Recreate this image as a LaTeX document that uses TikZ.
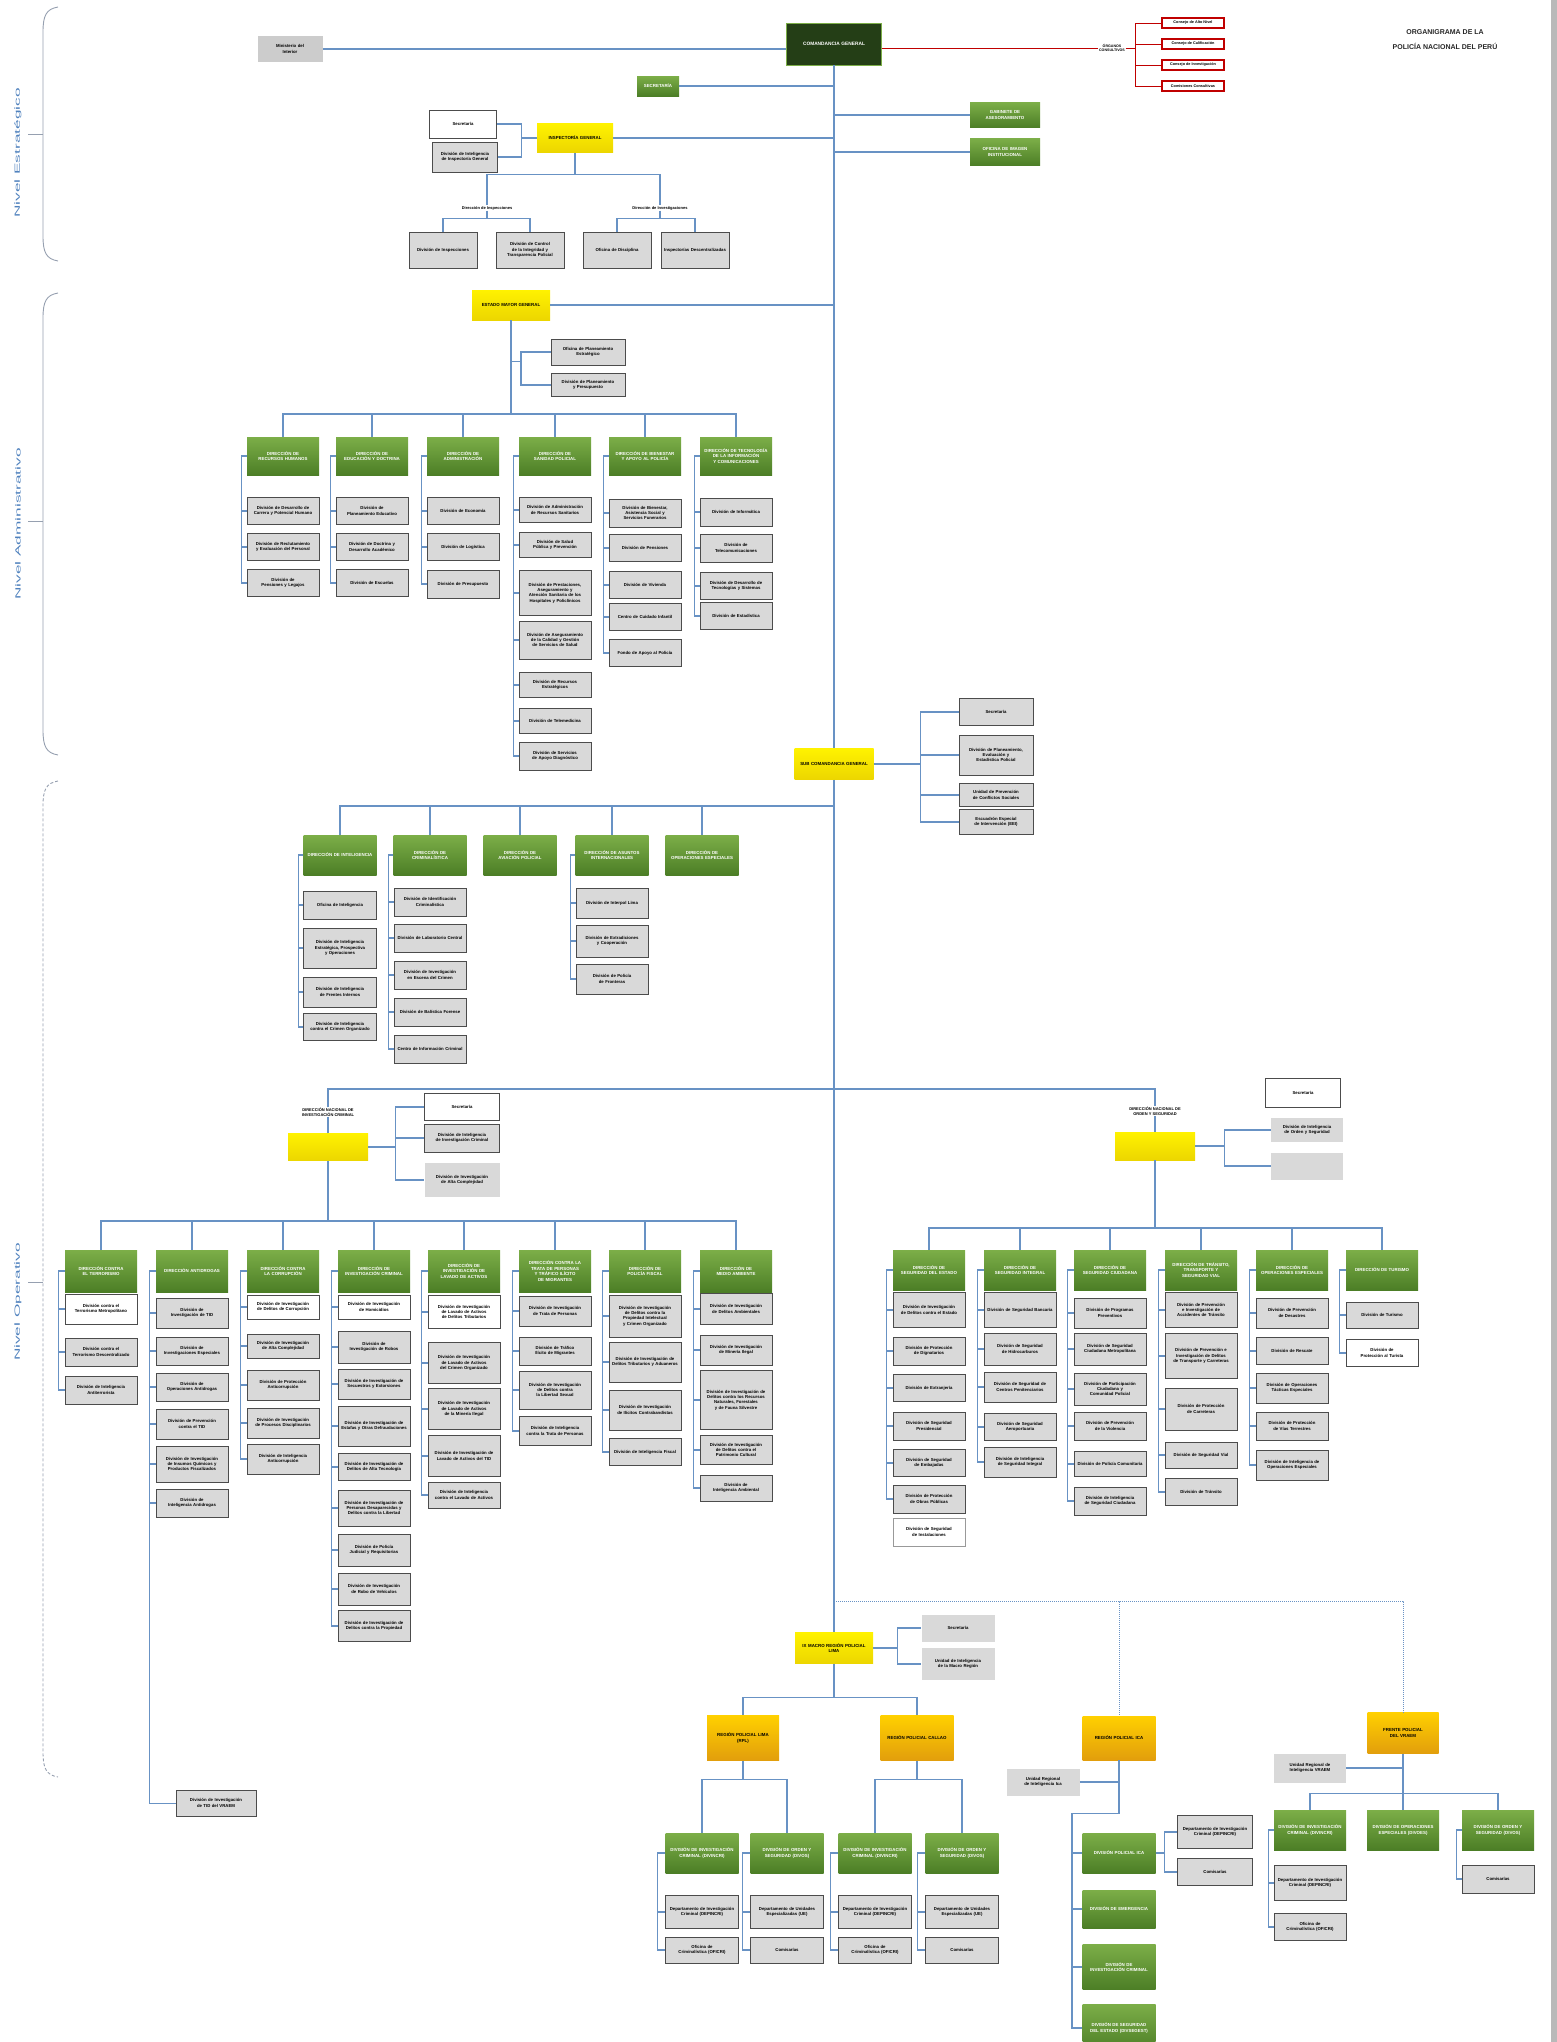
\documentclass[tikz,border=0pt]{standalone}
\usepackage{fontspec}
\setmainfont{Liberation Sans}
\usetikzlibrary{positioning}
\hyphenpenalty=10000
\exhyphenpenalty=10000

\definecolor{linec}{RGB}{104,146,196}
\definecolor{boxgray}{RGB}{217,217,217}
\definecolor{gtop}{RGB}{124,174,72}
\definecolor{gbot}{RGB}{76,126,38}
\definecolor{dkgreen}{RGB}{36,62,22}
\definecolor{ylw}{RGB}{255,242,0}
\definecolor{ylwb}{RGB}{236,214,0}
\definecolor{gold}{RGB}{255,208,0}
\definecolor{goldb}{RGB}{226,158,12}
\definecolor{redb}{RGB}{192,0,0}
\definecolor{lvl}{RGB}{79,129,189}
\definecolor{bracec}{RGB}{150,160,176}

\tikzset{
  conn/.style={draw=linec, line width=1.1pt},
  dotconn/.style={draw=linec, line width=1pt, densely dotted},
  redconn/.style={draw=redb, line width=0.7pt},
  brace/.style={draw=bracec, line width=0.9pt},
  gbox/.style={rectangle, draw=black!70, line width=0.9pt, fill=boxgray,
    minimum width=72pt, minimum height=27pt, text width=66pt, align=center,
    inner sep=1pt, font=\fontsize{4.3}{5.4}\bfseries},
  wbox/.style={gbox, fill=white},
  lbox/.style={gbox, draw=none, fill=gray!40},
  dirbox/.style={rectangle, top color=gtop, bottom color=gbot, minimum width=72pt,
    minimum height=40pt, text width=68pt, align=center, inner sep=1pt,
    text=white, font=\fontsize{4.4}{5.6}\bfseries},
  cgbox/.style={rectangle, fill=dkgreen, draw=gtop, line width=0.6pt,
    minimum width=94pt, minimum height=42pt, text width=88pt, align=center,
    text=white, font=\fontsize{4.8}{6}\bfseries},
  ybox/.style={rectangle, top color=ylw, bottom color=ylwb, minimum width=78pt,
    minimum height=30pt, text width=72pt, align=center, inner sep=1pt,
    font=\fontsize{4.4}{5.6}\bfseries},
  gldbox/.style={ybox, top color=gold, bottom color=goldb, minimum width=72pt,
    minimum height=44pt, text width=66pt},
  redbox/.style={rectangle, draw=redb, line width=1.8pt, fill=white,
    minimum width=62pt, minimum height=10pt, inner sep=0.5pt,
    font=\fontsize{3.8}{4.4}\bfseries},
  lbl/.style={align=center, inner sep=0.5pt, font=\fontsize{4}{5}\bfseries},
  nivel/.style={rotate=90, text=lvl, inner sep=0pt, font=\fontsize{7.5}{9}\selectfont},
}

\begin{document}
\begin{tikzpicture}[x=1pt,y=-1pt]
  \useasboundingbox (0,0) rectangle (1557,2042);
  \fill[gray!55] (1551,0) rectangle (1557,2042);

  % niveles
  \node[nivel] (nv1) at (18,153) {\scalebox{2.3}[1]{Nivel Estratégico}};
  \node[nivel] (nv2) at (18,524) {\scalebox{2.3}[1]{Nivel Administrativo}};
  \node[nivel] (nv3) at (18,1302) {\scalebox{2.3}[1]{Nivel Operativo}};
  \draw[brace] (58,7) .. controls (46,9) and (43,16) .. (43,32) -- (43,236)
    .. controls (43,252) and (46,259) .. (58,261);
  \draw[brace] (43,134) -- (28,134);
  \draw[brace] (58,293) .. controls (46,295) and (43,302) .. (43,318) -- (43,730)
    .. controls (43,746) and (46,753) .. (58,755);
  \draw[brace] (43,521) -- (28,521);
  \draw[brace, densely dashed] (58,781) .. controls (46,783) and (43,790) .. (43,806) -- (43,1752)
    .. controls (43,1768) and (46,1775) .. (58,1777);
  \draw[brace] (43,1282) -- (28,1282);

  % alta direccion
  \node[font=\fontsize{7}{15}\bfseries, align=center, text=black!85] (title) at (1445,40)
    {ORGANIGRAMA DE LA\\POLICÍA NACIONAL DEL PERÚ};
  \node[lbox, minimum width=65pt, text width=60pt, minimum height=26pt] (mi) at (290,49)
    {Ministerio del\\Interior};
  \node[cgbox] (cg) at (834,44) {COMANDANCIA GENERAL};
  \node[lbl, font=\fontsize{3.6}{4.4}\bfseries] (oc) at (1112,48) {ÓRGANOS\\CONSULTIVOS};
  \foreach \y/\t [count=\i] in {23/{Consejo de Alto Nivel}, 44/{Consejo de Calificación},
      65/{Consejo de Investigación}, 86/{Comisiones Consultivas}}
    \node[redbox] (r\i) at (1193,\y) {\t};
  \draw[conn] (mi.east) -- (mi.east -| cg.west);
  \draw[redconn] (oc.west -| cg.east) -- (oc.west);
  \draw[redconn] (oc.east) -- ++(10,0) coordinate (rk);
  \foreach \i in {1,...,4}
    \draw[redconn] (rk) |- (r\i.west);

  \node[dirbox, minimum width=42pt, text width=40pt, minimum height=20pt] (sec) at (658,86) {SECRETARÍA};
  \node[dirbox, minimum width=70pt, text width=66pt, minimum height=25pt] (gab) at (1005,115)
    {GABINETE DE ASESORAMIENTO};
  \node[dirbox, minimum width=70pt, text width=66pt, minimum height=27pt] (oci) at (1005,152)
    {OFICINA DE IMAGEN INSTITUCIONAL};
  \draw[conn] (sec.east) -- (sec.east -| cg.south);
  \draw[conn] (gab.west) -- (gab.west -| cg.south);
  \draw[conn] (oci.west) -- (oci.west -| cg.south);

  % inspectoria general
  \node[ybox, minimum width=76pt, minimum height=29pt] (ig) at (575,138) {INSPECTORÍA GENERAL};
  \node[wbox, minimum width=67pt, text width=60pt, minimum height=28pt] (igs) at (463,124) {Secretaría};
  \node[gbox, minimum width=65pt, text width=60pt, minimum height=30pt] (igi) at (465,157)
    {División de Inteligencia de Inspectoría General};
  \node[lbl] (dinsp) at (487,208) {Dirección de Inspecciones};
  \node[lbl] (dinv) at (660,208) {Dirección de Investigaciones};
  \node[gbox, minimum width=68pt, text width=62pt, minimum height=36pt] (b1) at (443,250)
    {División de Inspecciones};
  \node[gbox, minimum width=68pt, text width=62pt, minimum height=36pt] (b2) at (530,250)
    {División de Control de la Integridad y Transparencia Policial};
  \node[gbox, minimum width=68pt, text width=62pt, minimum height=36pt] (b3) at (617,250)
    {Oficina de Disciplina};
  \node[gbox, minimum width=68pt, text width=62pt, minimum height=36pt] (b4) at (695,250)
    {Inspectorías Descentralizadas};
  \draw[conn] (ig.east) -- (ig.east -| cg.south);
  \draw[conn] (ig.west) -- ++(-15,0) coordinate (ik);
  \draw[conn] (ik) |- (igs.east);
  \draw[conn] (ik) |- (igi.east);
  \draw[conn] (ig.south) -- ++(0,22) coordinate (id);
  \draw[conn] (id) -| (dinsp.north);
  \draw[conn] (id) -| (dinv.north);
  \draw[conn] (dinsp.south) -- ++(0,8) coordinate (ia);
  \draw[conn] (ia) -| (b1.north);
  \draw[conn] (ia) -| (b2.north);
  \draw[conn] (dinv.south) -- ++(0,8) coordinate (ib);
  \draw[conn] (ib) -| (b3.north);
  \draw[conn] (ib) -| (b4.north);

  % estado mayor general
  \node[ybox] (emg) at (511,305) {ESTADO MAYOR GENERAL};
  \node[gbox, minimum width=74pt, minimum height=26pt] (em1) at (588,352)
    {Oficina de Planeamiento Estratégico};
  \node[gbox, minimum width=74pt, minimum height=23pt] (em2) at (588,385)
    {División de Planeamiento y Presupuesto};
  \draw[conn] (emg.east) -- (emg.east -| cg.south);
  \draw[conn] (emg.south) ++(0,41) -- ++(10,0) coordinate (ek);
  \draw[conn] (ek) |- (em1.west);
  \draw[conn] (ek) |- (em2.west);
  \coordinate (eb) at (511,414);
  \draw[conn] (emg.south) -- (eb);
  \foreach \x/\t [count=\i] in {283/{DIRECCIÓN DE RECURSOS HUMANOS},
      372/{DIRECCIÓN DE EDUCACIÓN Y DOCTRINA}, 463/{DIRECCIÓN DE ADMINISTRACIÓN},
      555/{DIRECCIÓN DE SANIDAD POLICIAL}, 645/{DIRECCIÓN DE BIENESTAR Y APOYO AL POLICÍA},
      736/{DIRECCIÓN DE TECNOLOGÍA DE LA INFORMACIÓN Y COMUNICACIONES}} {
    \node[dirbox, minimum height=38pt] (e\i) at (\x,456) {\t};
    \draw[conn] (e\i.north) |- (eb);
  }
  \foreach \y/\h/\t [count=\i] in {511/27/{División de Desarrollo de Carrera y Potencial Humano},
      547/27/{División de Reclutamiento y Evaluación del Personal}, 583/27/{División de Pensiones y Legajos}} {
    \node[gbox, minimum height=\h pt] (e1c\i) at (283,\y) {\t};
    \draw[conn] (e1.west) -- ++(-5,0) |- (e1c\i.west);
  }
  \foreach \y/\h/\t [count=\i] in {511/27/{División de Planeamiento Educativo},
      547/27/{División de Doctrina y Desarrollo Académico}, 583/27/{División de Escuelas}} {
    \node[gbox, minimum height=\h pt] (e2c\i) at (372,\y) {\t};
    \draw[conn] (e2.west) -- ++(-5,0) |- (e2c\i.west);
  }
  \foreach \y/\h/\t [count=\i] in {511/27/{División de Economía}, 547/27/{División de Logística},
      584/28/{División de Presupuesto}} {
    \node[gbox, minimum height=\h pt] (e3c\i) at (463,\y) {\t};
    \draw[conn] (e3.west) -- ++(-5,0) |- (e3c\i.west);
  }
  \foreach \y/\h/\t [count=\i] in {510/25/{División de Administración de Recursos Sanitarios},
      545/25/{División de Salud Pública y Prevención},
      593/45/{División de Prestaciones, Aseguramiento y Atención Sanitaria de los Hospitales y Policlínicos},
      640/38/{División de Aseguramiento de la Calidad y Gestión de Servicios de Salud},
      685/25/{División de Recursos Estratégicos}, 721/25/{División de Telemedicina},
      756/28/{División de Servicios de Apoyo Diagnóstico}} {
    \node[gbox, minimum height=\h pt] (e4c\i) at (555,\y) {\t};
    \draw[conn] (e4.west) -- ++(-5,0) |- (e4c\i.west);
  }
  \foreach \y/\h/\t [count=\i] in {513/28/{División de Bienestar, Asistencia Social y Servicios Funerarios},
      548/27/{División de Pensiones}, 585/27/{División de Vivienda}, 617/27/{Centro de Cuidado Infantil},
      653/27/{Fondo de Apoyo al Policía}} {
    \node[gbox, minimum height=\h pt] (e5c\i) at (645,\y) {\t};
    \draw[conn] (e5.west) -- ++(-5,0) |- (e5c\i.west);
  }
  \foreach \y/\h/\t [count=\i] in {512/28/{División de Informática}, 548/28/{División de Telecomunicaciones},
      586/27/{División de Desarrollo de Tecnologías y Sistemas}, 616/27/{División de Estadística}} {
    \node[gbox, minimum height=\h pt] (e6c\i) at (736,\y) {\t};
    \draw[conn] (e6.west) -- ++(-5,0) |- (e6c\i.west);
  }

  % sub comandancia general
  \node[ybox, minimum width=79pt, minimum height=31pt] (scg) at (834,764) {SUB COMANDANCIA GENERAL};
  \foreach \y/\h/\t [count=\i] in {712/27/{Secretaría},
      755/40/{División de Planeamiento, Evaluación y Estadística Policial},
      795/23/{Unidad de Prevención de Conflictos Sociales},
      822/25/{Escuadrón Especial de Intervención (EEI)}} {
    \node[gbox, minimum width=74pt, minimum height=\h pt] (s\i) at (996,\y) {\t};
  }
  \draw[conn] (cg.south) -- (scg.north);
  \draw[conn] (scg.east) -- ++(47,0) coordinate (sk);
  \foreach \i in {1,...,4}
    \draw[conn] (sk) |- (s\i.west);
  \coordinate (sb) at (834,806);
  \foreach \x/\t [count=\i] in {340/{DIRECCIÓN DE INTELIGENCIA}, 430/{DIRECCIÓN DE CRIMINALÍSTICA},
      520/{DIRECCIÓN DE AVIACIÓN POLICIAL}, 612/{DIRECCIÓN DE ASUNTOS INTERNACIONALES},
      702/{DIRECCIÓN DE OPERACIONES ESPECIALES}} {
    \node[dirbox, minimum width=73pt] (f\i) at (\x,855) {\t};
    \draw[conn] (f\i.north) |- (sb);
  }
  \foreach \y/\h/\t [count=\i] in {905/28/{Oficina de Inteligencia},
      948/40/{División de Inteligencia Estratégica, Prospectiva y Operaciones},
      992/30/{División de Inteligencia de Frentes Internos},
      1027/27/{División de Inteligencia contra el Crimen Organizado}} {
    \node[gbox, minimum width=73pt, minimum height=\h pt] (f1c\i) at (340,\y) {\t};
    \draw[conn] (f1.west) -- ++(-5,0) |- (f1c\i.west);
  }
  \foreach \y/\h/\t [count=\i] in {902/28/{División de Identificación Criminalística},
      938/28/{División de Laboratorio Central}, 975/28/{División de Investigación en Escena del Crimen},
      1012/28/{División de Balística Forense}, 1049/28/{Centro de Información Criminal}} {
    \node[gbox, minimum height=\h pt] (f2c\i) at (430,\y) {\t};
    \draw[conn] (f2.west) -- ++(-5,0) |- (f2c\i.west);
  }
  \foreach \y/\h/\t [count=\i] in {903/30/{División de Interpol Lima},
      941/32/{División de Extradiciones y Cooperación}, 979/30/{División de Policía de Fronteras}} {
    \node[gbox, minimum height=\h pt] (f4c\i) at (612,\y) {\t};
    \draw[conn] (f4.west) -- ++(-5,0) |- (f4c\i.west);
  }

  % direccion nacional de investigacion criminal
  \coordinate (nb) at (834,1089);
  \node[ybox, minimum width=80pt, minimum height=27pt] (dirnic) at (328,1147) {};
  \node[lbl, above=16pt of dirnic] (dnlbl) {DIRECCIÓN NACIONAL DE\\INVESTIGACIÓN CRIMINAL};
  \draw[conn] (dirnic.north) -- (dnlbl.south);
  \draw[conn] (dnlbl.north) |- (nb);
  \node[wbox, minimum width=75pt, minimum height=27pt] (n1) at (462,1107) {Secretaría};
  \node[gbox, minimum width=75pt, minimum height=28pt] (n2) at (462,1138)
    {División de Inteligencia de Investigación Criminal};
  \node[gbox, draw=none, minimum width=75pt, minimum height=34pt] (n3) at (462,1180)
    {División de Investigación de Alta Complejidad};
  \draw[conn] (dirnic.east) -- ++(27,0) coordinate (nk);
  \foreach \i in {1,...,3}
    \draw[conn] (nk) |- (n\i.west);
  \coordinate (db) at (328,1221);
  \draw[conn] (dirnic.south) -- (db);
  \foreach \x/\t [count=\i] in {101/{DIRECCIÓN CONTRA EL TERRORISMO}, 192/{DIRECCIÓN ANTIDROGAS},
      283/{DIRECCIÓN CONTRA LA CORRUPCIÓN}, 374/{DIRECCIÓN DE INVESTIGACIÓN CRIMINAL},
      464/{DIRECCIÓN DE INVESTIGACIÓN DE LAVADO DE ACTIVOS},
      555/{DIRECCIÓN CONTRA LA TRATA DE PERSONAS Y TRÁFICO ILÍCITO DE MIGRANTES},
      645/{DIRECCIÓN DE POLICÍA FISCAL}, 736/{DIRECCIÓN DE MEDIO AMBIENTE}} {
    \node[dirbox, minimum height=42pt] (d\i) at (\x,1271) {\t};
    \draw[conn] (d\i.north) |- (db);
  }
  \foreach \y/\h/\s/\t [count=\i] in {1309/30/wbox/{División contra el Terrorismo Metropolitano},
      1352/28/gbox/{División contra el Terrorismo Descentralizado},
      1390/28/gbox/{División de Inteligencia Antiterrorista}} {
    \node[\s, minimum height=\h pt] (d1c\i) at (101,\y) {\t};
    \draw[conn] (d1.west) -- ++(-6,0) |- (d1c\i.west);
  }
  \foreach \y/\h/\t [count=\i] in {1313/30/{División de Investigación de TID},
      1351/28/{División de Investigaciones Especiales}, 1387/28/{División de Operaciones Antidrogas},
      1424/30/{División de Prevención contra el TID},
      1464/36/{División de Investigación de Insumos Químicos y Productos Fiscalizados},
      1503/28/{División de Inteligencia Antidrogas}} {
    \node[gbox, minimum height=\h pt] (d2c\i) at (192,\y) {\t};
    \draw[conn] (d2.west) -- ++(-6,0) |- (d2c\i.west);
  }
  \node[gbox, minimum width=80pt, text width=74pt, minimum height=26pt] (lone) at (216,1803)
    {División de Investigación de TID del VRAEM};
  \draw[conn, line width=0.7pt] (d2.west) -- ++(-6,0) |- (lone.west);
  \foreach \y/\h/\s/\t [count=\i] in {1307/24/wbox/{División de Investigación de Delitos de Corrupción},
      1346/24/gbox/{División de Investigación de Alta Complejidad},
      1385/30/gbox/{División de Protección Anticorrupción},
      1423/30/gbox/{División de Investigación de Procesos Disciplinarios},
      1459/30/gbox/{División de Inteligencia Anticorrupción}} {
    \node[\s, minimum height=\h pt] (d3c\i) at (283,\y) {\t};
    \draw[conn] (d3.west) -- ++(-6,0) |- (d3c\i.west);
  }
  \foreach \y/\h/\s/\t [count=\i] in {1307/24/wbox/{División de Investigación de Homicidios},
      1347/32/gbox/{División de Investigación de Robos},
      1384/30/gbox/{División de Investigación de Secuestros y Extorsiones},
      1426/40/gbox/{División de Investigación de Estafas y Otras Defraudaciones},
      1467/27/gbox/{División de Investigación de Delitos de Alta Tecnología},
      1508/36/gbox/{División de Investigación de Personas Desaparecidas y Delitos contra la Libertad},
      1550/32/gbox/{División de Policía Judicial y Requisitorias},
      1589/32/gbox/{División de Investigación de Robo de Vehículos},
      1626/31/gbox/{División de Investigación de Delitos contra la Propiedad}} {
    \node[\s, minimum height=\h pt] (d4c\i) at (374,\y) {\t};
    \draw[conn] (d4.west) -- ++(-6,0) |- (d4c\i.west);
  }
  \foreach \y/\h/\s/\t [count=\i] in {1312/33/wbox/{División de Investigación de Lavado de Activos de Delitos Tributarios},
      1363/41/gbox/{División de Investigación de Lavado de Activos del Crimen Organizado},
      1409/41/gbox/{División de Investigación de Lavado de Activos de la Minería Ilegal},
      1456/41/gbox/{División de Investigación de Lavado de Activos del TID},
      1495/26/gbox/{División de Inteligencia contra el Lavado de Activos}} {
    \node[\s, minimum height=\h pt] (d5c\i) at (464,\y) {\t};
    \draw[conn] (d5.west) -- ++(-6,0) |- (d5c\i.west);
  }
  \foreach \y/\h/\t [count=\i] in {1311/30/{División de Investigación de Trata de Personas},
      1351/28/{División de Tráfico Ilícito de Migrantes},
      1390/38/{División de Investigación de Delitos contra la Libertad Sexual},
      1431/29/{División de Inteligencia contra la Trata de Personas}} {
    \node[gbox, minimum height=\h pt] (d6c\i) at (555,\y) {\t};
    \draw[conn] (d6.west) -- ++(-6,0) |- (d6c\i.west);
  }
  \foreach \y/\h/\t [count=\i] in {1316/42/{División de Investigación de Delitos contra la Propiedad Intelectual y Crimen Organizado},
      1362/40/{División de Investigación de Delitos Tributarios y Aduaneros},
      1410/40/{División de Investigación de Ilícitos Contrabandistas},
      1452/27/{División de Inteligencia Fiscal}} {
    \node[gbox, minimum height=\h pt] (d7c\i) at (645,\y) {\t};
    \draw[conn] (d7.west) -- ++(-6,0) |- (d7c\i.west);
  }
  \foreach \y/\h/\t [count=\i] in {1309/31/{División de Investigación de Delitos Ambientales},
      1350/30/{División de Investigación de Minería Ilegal},
      1400/59/{División de Investigación de Delitos contra los Recursos Naturales, Forestales y de Fauna Silvestre},
      1450/29/{División de Investigación de Delitos contra el Patrimonio Cultural},
      1488/26/{División de Inteligencia Ambiental}} {
    \node[gbox, minimum height=\h pt] (d8c\i) at (736,\y) {\t};
    \draw[conn] (d8.west) -- ++(-6,0) |- (d8c\i.west);
  }

  % direccion nacional de orden y seguridad
  \node[ybox, minimum width=80pt, minimum height=28pt] (dirnos) at (1155,1146) {};
  \node[lbl, above=16pt of dirnos] (dolbl) {DIRECCIÓN NACIONAL DE\\ORDEN Y SEGURIDAD};
  \draw[conn] (dirnos.north) -- (dolbl.south);
  \draw[conn] (dolbl.north) |- (nb);
  \draw[conn] (scg.south) -- (nb);
  \node[wbox, minimum width=75pt, minimum height=29pt] (o1) at (1303,1093) {Secretaría};
  \node[gbox, draw=none, minimum height=24pt] (o2) at (1307,1130)
    {División de Inteligencia de Orden y Seguridad};
  \node[gbox, draw=none, minimum height=27pt] (o3) at (1307,1166) {};
  \draw[conn] (dirnos.east) -- ++(29,0) coordinate (ok);
  \draw[conn] (ok) |- (o2.west);
  \draw[conn] (ok) |- (o3.west);
  \coordinate (ob) at (1155,1228);
  \draw[conn] (dirnos.south) -- (ob);
  \foreach \x/\t [count=\i] in {929/{DIRECCIÓN DE SEGURIDAD DEL ESTADO}, 1020/{DIRECCIÓN DE SEGURIDAD INTEGRAL},
      1110/{DIRECCIÓN DE SEGURIDAD CIUDADANA}, 1201/{DIRECCIÓN DE TRÁNSITO, TRANSPORTE Y SEGURIDAD VIAL},
      1292/{DIRECCIÓN DE OPERACIONES ESPECIALES}, 1382/{DIRECCIÓN DE TURISMO}} {
    \node[dirbox] (q\i) at (\x,1270) {\t};
    \draw[conn] (q\i.north) |- (ob);
  }
  \foreach \y/\h/\t [count=\i] in {1310/35/{División de Investigación de Delitos contra el Estado},
      1351/28/{División de Protección de Dignatarios}, 1388/27/{División de Extranjería},
      1426/28/{División de Seguridad Presidencial}, 1463/27/{División de Seguridad de Embajadas},
      1499/28/{División de Protección de Obras Públicas}} {
    \node[gbox, minimum height=\h pt] (q1c\i) at (929,\y) {\t};
    \draw[conn] (q1.west) -- ++(-6,0) |- (q1c\i.west);
  }
  \node[wbox, draw=black!40, line width=0.5pt, minimum height=28pt] (q1x) at (929,1532)
    {División de Seguridad de Instalaciones};
  \foreach \y/\h/\t [count=\i] in {1310/35/{División de Seguridad Bancaria},
      1349/32/{División de Seguridad de Hidrocarburos}, 1387/30/{División de Seguridad de Centros Penitenciarios},
      1427/27/{División de Seguridad Aeroportuaria}, 1462/30/{División de Inteligencia de Seguridad Integral}} {
    \node[gbox, minimum height=\h pt] (q2c\i) at (1020,\y) {\t};
    \draw[conn] (q2.west) -- ++(-6,0) |- (q2c\i.west);
  }
  \foreach \y/\h/\t [count=\i] in {1313/30/{División de Programas Preventivos},
      1349/32/{División de Seguridad Ciudadana Metropolitana},
      1389/32/{División de Participación Ciudadana y Comunidad Policial},
      1426/28/{División de Prevención de la Violencia}, 1464/25/{División de Policía Comunitaria},
      1501/28/{División de Inteligencia de Seguridad Ciudadana}} {
    \node[gbox, minimum height=\h pt] (q3c\i) at (1110,\y) {\t};
    \draw[conn] (q3.west) -- ++(-6,0) |- (q3c\i.west);
  }
  \foreach \y/\h/\t [count=\i] in {1310/35/{División de Prevención e Investigación de Accidentes de Tránsito},
      1356/45/{División de Prevención e Investigación de Delitos de Transporte y Carreteras},
      1409/42/{División de Protección de Carreteras}, 1455/26/{División de Seguridad Vial},
      1492/27/{División de Tránsito}} {
    \node[gbox, minimum height=\h pt] (q4c\i) at (1201,\y) {\t};
    \draw[conn] (q4.west) -- ++(-6,0) |- (q4c\i.west);
  }
  \foreach \y/\h/\t [count=\i] in {1313/30/{División de Prevención de Desastres},
      1351/27/{División de Rescate}, 1388/30/{División de Operaciones Tácticas Especiales},
      1426/28/{División de Protección de Vías Terrestres},
      1465/30/{División de Inteligencia de Operaciones Especiales}} {
    \node[gbox, minimum height=\h pt] (q5c\i) at (1292,\y) {\t};
    \draw[conn] (q5.west) -- ++(-6,0) |- (q5c\i.west);
  }
  \foreach \y/\h/\s/\t [count=\i] in {1315/26/gbox/{División de Turismo},
      1353/27/wbox/{División de Protección al Turista}} {
    \node[\s, minimum height=\h pt] (q6c\i) at (1382,\y) {\t};
    \draw[conn] (q6.west) -- ++(-6,0) |- (q6c\i.west);
  }

  % macro region policial
  \node[ybox, minimum height=31pt] (mrp) at (834,1648) {IX MACRO REGIÓN POLICIAL\\LIMA};
  \draw[conn] (nb) -- (mrp.north);
  \node[gbox, draw=none, minimum width=73pt, minimum height=27pt] (m1) at (958,1628) {Secretaría};
  \node[gbox, draw=none, minimum width=73pt, minimum height=32pt] (m2) at (958,1664)
    {Unidad de Inteligencia de la Macro Región};
  \draw[conn] (mrp.east) -- ++(24,0) coordinate (mk);
  \draw[conn] (mk) |- (m1.west);
  \draw[conn] (mk) |- (m2.west);
  \coordinate (mb) at (834,1601);
  \node[gldbox, minimum height=45pt] (p1) at (743,1738) {REGIÓN POLICIAL LIMA\\(RPL)};
  \node[gldbox, minimum width=73pt, minimum height=45pt] (p2) at (917,1738) {REGIÓN POLICIAL CALLAO};
  \node[gldbox, minimum width=73pt] (p3) at (1119,1738) {REGIÓN POLICIAL ICA};
  \node[gldbox, minimum width=71pt, minimum height=41pt] (p4) at (1403,1733) {FRENTE POLICIAL DEL VRAEM};
  \draw[conn] (mrp.south) -- ++(0,34) coordinate (mpb);
  \draw[conn] (p1.north) |- (mpb);
  \draw[conn] (p2.north) |- (mpb);
  \draw[dotconn] (mb) -| (p3.north);
  \draw[dotconn] (mb) -| (p4.north);

  % regiones lima y callao
  \foreach \p/\xa/\xb [count=\k] in {p1/702/787, p2/875/962} {
    \draw[conn] (\p.south) -- ++(0,19) coordinate (k\k);
    \node[dirbox, minimum width=73pt] (h\k1) at (\xa,1853) {DIVISIÓN DE INVESTIGACIÓN CRIMINAL (DIVINCRI)};
    \node[dirbox, minimum width=73pt] (h\k2) at (\xb,1853) {DIVISIÓN DE ORDEN Y SEGURIDAD (DIVOS)};
    \draw[conn] (h\k1.north) |- (k\k);
    \draw[conn] (h\k2.north) |- (k\k);
    \node[gbox, minimum width=73pt, minimum height=33pt] (h\k1a) at (\xa,1912)
      {Departamento de Investigación Criminal (DEPINCRI)};
    \node[gbox, minimum width=73pt, minimum height=26pt] (h\k1b) at (\xa,1950)
      {Oficina de Criminalística (OFICRI)};
    \node[gbox, minimum width=73pt, minimum height=33pt] (h\k2a) at (\xb,1912)
      {Departamento de Unidades Especializadas (UE)};
    \node[gbox, minimum width=73pt, minimum height=26pt] (h\k2b) at (\xb,1950) {Comisarías};
    \draw[conn] (h\k1.west) -- ++(-8,0) |- (h\k1a.west);
    \draw[conn] (h\k1.west) -- ++(-8,0) |- (h\k1b.west);
    \draw[conn] (h\k2.west) -- ++(-8,0) |- (h\k2a.west);
    \draw[conn] (h\k2.west) -- ++(-8,0) |- (h\k2b.west);
  }

  % region ica
  \node[gbox, draw=none, minimum width=73pt] (u3) at (1043,1782) {Unidad Regional de Inteligencia Ica};
  \draw[conn] (u3.east) -- (u3.east -| p3.south);
  \draw[conn] (p3.south) -- ++(0,53) -- ++(-47,0) coordinate (k3);
  \foreach \y/\h/\t [count=\i] in {1853/40/{DIVISIÓN POLICIAL ICA}, 1909/38/{DIVISIÓN DE EMERGENCIA},
      1967/45/{DIVISIÓN DE INVESTIGACIÓN CRIMINAL}, 2028/48/{DIVISIÓN DE SEGURIDAD DEL ESTADO (DIVSEGEST)}} {
    \node[dirbox, minimum width=73pt, minimum height=\h pt] (h3\i) at (1119,\y) {\t};
    \draw[conn] (k3) |- (h3\i.west);
  }
  \node[gbox, minimum width=75pt, minimum height=33pt] (j1) at (1215,1832)
    {Departamento de Investigación Criminal (DEPINCRI)};
  \node[gbox, minimum width=75pt, minimum height=27pt] (j2) at (1215,1872) {Comisarías};
  \draw[conn] (h31.east) -- ++(9,0) coordinate (k31);
  \draw[conn] (k31) |- (j1.west);
  \draw[conn] (k31) |- (j2.west);

  % frente vraem
  \node[gbox, draw=none, minimum height=29pt] (u4) at (1310,1768) {Unidad Regional de Inteligencia VRAEM};
  \draw[conn] (u4.east) -- (u4.east -| p4.south);
  \draw[conn] (p4.south) -- ++(0,40) coordinate (k4);
  \foreach \x/\t [count=\i] in {1310/{DIVISIÓN DE INVESTIGACIÓN CRIMINAL (DIVINCRI)},
      1403/{DIVISIÓN DE OPERACIONES ESPECIALES (DIVOES)}, 1498/{DIVISIÓN DE ORDEN Y SEGURIDAD (DIVOS)}} {
    \node[dirbox] (h4\i) at (\x,1830) {\t};
    \draw[conn] (h4\i.north) |- (k4);
  }
  \node[gbox, minimum height=35pt] (h41a) at (1310,1883) {Departamento de Investigación Criminal (DEPINCRI)};
  \node[gbox, minimum height=27pt] (h41b) at (1310,1927) {Oficina de Criminalística (OFICRI)};
  \node[gbox, minimum height=28pt] (h43a) at (1498,1879) {Comisarías};
  \draw[conn] (h41.west) -- ++(-5,0) |- (h41a.west);
  \draw[conn] (h41.west) -- ++(-5,0) |- (h41b.west);
  \draw[conn] (h43.west) -- ++(-5,0) |- (h43a.west);
\end{tikzpicture}
\end{document}
